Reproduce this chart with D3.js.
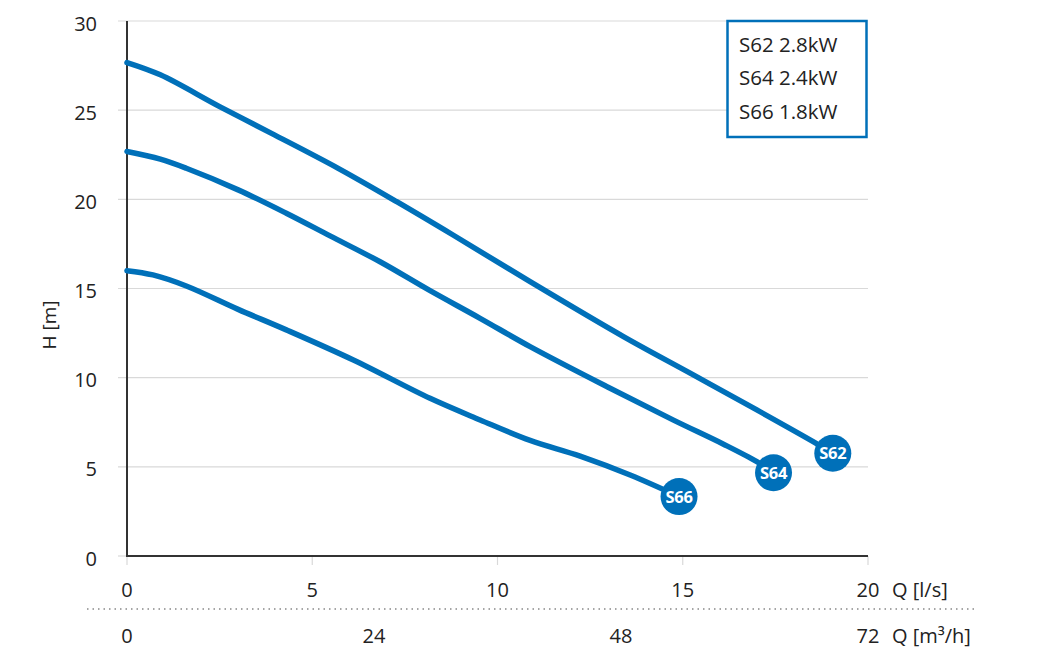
<!DOCTYPE html>
<html>
<head>
<meta charset="utf-8">
<script src="https://cdn.jsdelivr.net/npm/d3@7/dist/d3.min.js"></script>
<style>
  html, body { margin: 0; padding: 0; background: #fff; }
  svg { display: block; font-family: "Open Sans", "Noto Sans", sans-serif; }
</style>
</head>
<body>
<svg id="chart" width="1050" height="663"></svg>
<script>
// ---- data ----
const seriesNames = ["S62", "S64", "S66"];
const legendLabels = ["S62 2.8kW", "S64 2.4kW", "S66 1.8kW"];
const qS62 = [0, 0.9, 2.5, 3.9, 5.7, 7.28, 8.8, 10.88, 13.4, 15.2, 17.0, 18.6, 19.05];
const hS62 = [27.67, 26.98, 25.2, 23.7, 21.74, 19.87, 18.0, 15.38, 12.3, 10.25, 8.19, 6.32, 5.76];
const qS64 = [0, 0.9, 1.6, 3.0, 4.3, 5.48, 6.83, 8.18, 9.53, 10.88, 12.95, 14.75, 16.1, 17.0, 17.45];
const hS64 = [22.68, 22.25, 21.74, 20.53, 19.22, 17.95, 16.5, 14.88, 13.33, 11.74, 9.5, 7.62, 6.27, 5.29, 4.67];
const qS66 = [0, 0.7, 1.6, 3.0, 4.3, 6.11, 8.18, 9.53, 10.88, 12.23, 13.58, 14.9];
const hS66 = [16.0, 15.76, 15.14, 13.83, 12.68, 10.99, 8.84, 7.63, 6.48, 5.6, 4.54, 3.33];
const yTicks = [0, 5, 10, 15, 20, 25, 30];
const xTicksLs = [0, 5, 10, 15, 20];
const xTicksM3h = [0, 24, 48, 72];
const xUnitLs = "Q [l/s]";
const xUnitM3h = "Q [m³/h]";
const yLabel = "H [m]";

const series = [
  { name: seriesNames[0], q: qS62, h: hS62 },
  { name: seriesNames[1], q: qS64, h: hS64 },
  { name: seriesNames[2], q: qS66, h: hS66 }
];

// ---- layout ----
const blue = "#0070b9";
const textCol = "#222";
const svg = d3.select("#chart");
const x = d3.scaleLinear().domain([0, 20]).range([127, 868]);
const xm = d3.scaleLinear().domain([0, 72]).range([127, 868]);
const y = d3.scaleLinear().domain([0, 30]).range([556, 21]);

// grid
svg.append("g").selectAll("line").data(yTicks.filter(d => d > 0)).join("line")
  .attr("x1", 118).attr("x2", 868)
  .attr("y1", d => y(d)).attr("y2", d => y(d))
  .attr("stroke", "#d9d9d9").attr("stroke-width", 1.2);
svg.append("line").attr("x1", 118).attr("x2", 127).attr("y1", y(0)).attr("y2", y(0))
  .attr("stroke", "#d9d9d9").attr("stroke-width", 1.2);

// x ticks (down)
svg.append("g").selectAll("line").data(xTicksLs).join("line")
  .attr("x1", d => x(d)).attr("x2", d => x(d))
  .attr("y1", y(0)).attr("y2", y(0) + 9)
  .attr("stroke", "#d9d9d9").attr("stroke-width", 1.2);

// axes lines
svg.append("line").attr("x1", x(0)).attr("x2", x(0)).attr("y1", y(30)).attr("y2", y(0) + 1)
  .attr("stroke", "#333").attr("stroke-width", 2);
svg.append("line").attr("x1", x(0) - 1).attr("x2", x(20)).attr("y1", y(0)).attr("y2", y(0))
  .attr("stroke", "#333").attr("stroke-width", 2);

// y tick labels
svg.append("g").selectAll("text").data(yTicks).join("text")
  .attr("x", 97).attr("y", d => y(d) + 9.5)
  .attr("text-anchor", "end").attr("font-size", 20).attr("fill", textCol)
  .text(d => d);

// x tick labels (l/s)
svg.append("g").selectAll("text").data(xTicksLs).join("text")
  .attr("x", d => x(d)).attr("y", 597)
  .attr("text-anchor", "middle").attr("font-size", 20).attr("fill", textCol)
  .text(d => d);
svg.append("text").attr("x", 892).attr("y", 597).attr("font-size", 20).attr("fill", textCol).text(xUnitLs);

// dotted separator
svg.append("line").attr("x1", 87).attr("x2", 976).attr("y1", 609).attr("y2", 609)
  .attr("stroke", "#888").attr("stroke-width", 1.5).attr("stroke-dasharray", "1.5,4");

// x tick labels (m3/h)
svg.append("g").selectAll("text").data(xTicksM3h).join("text")
  .attr("x", d => xm(d)).attr("y", 643)
  .attr("text-anchor", "middle").attr("font-size", 20).attr("fill", textCol)
  .text(d => d);
svg.append("text").attr("x", 892).attr("y", 643).attr("font-size", 20).attr("fill", textCol).text(xUnitM3h);

// y label
svg.append("text").attr("transform", "translate(56,325) rotate(-90)")
  .attr("text-anchor", "middle").attr("font-size", 19).attr("fill", textCol).text(yLabel);

// curves
const line = d3.line().x(d => x(d[0])).y(d => y(d[1])).curve(d3.curveCatmullRom.alpha(0.5));
series.forEach(s => {
  const pts = s.q.map((q, i) => [q, s.h[i]]);
  svg.append("path").datum(pts).attr("d", line)
    .attr("fill", "none").attr("stroke", blue).attr("stroke-width", 5.5)
    .attr("stroke-linecap", "round").attr("stroke-linejoin", "round");
});
// end markers
series.forEach(s => {
  const n = s.q.length - 1;
  const cx = x(s.q[n]), cy = y(s.h[n]);
  svg.append("circle").attr("cx", cx).attr("cy", cy).attr("r", 18.5).attr("fill", blue);
  svg.append("text").attr("x", cx).attr("y", cy + 6).attr("text-anchor", "middle")
    .attr("font-size", 16.5).attr("font-weight", 700).attr("fill", "#fff")
    .attr("letter-spacing", -0.3).text(s.name);
});

// legend
svg.append("rect").attr("x", 727.5).attr("y", 21).attr("width", 139).attr("height", 116)
  .attr("fill", "#fff").attr("stroke", blue).attr("stroke-width", 2.5);
svg.append("g").selectAll("text").data(legendLabels).join("text")
  .attr("x", 739).attr("y", (d, i) => 51.5 + i * 33.5)
  .attr("font-size", 20.5).attr("fill", textCol).text(d => d);
</script>
</body>
</html>
